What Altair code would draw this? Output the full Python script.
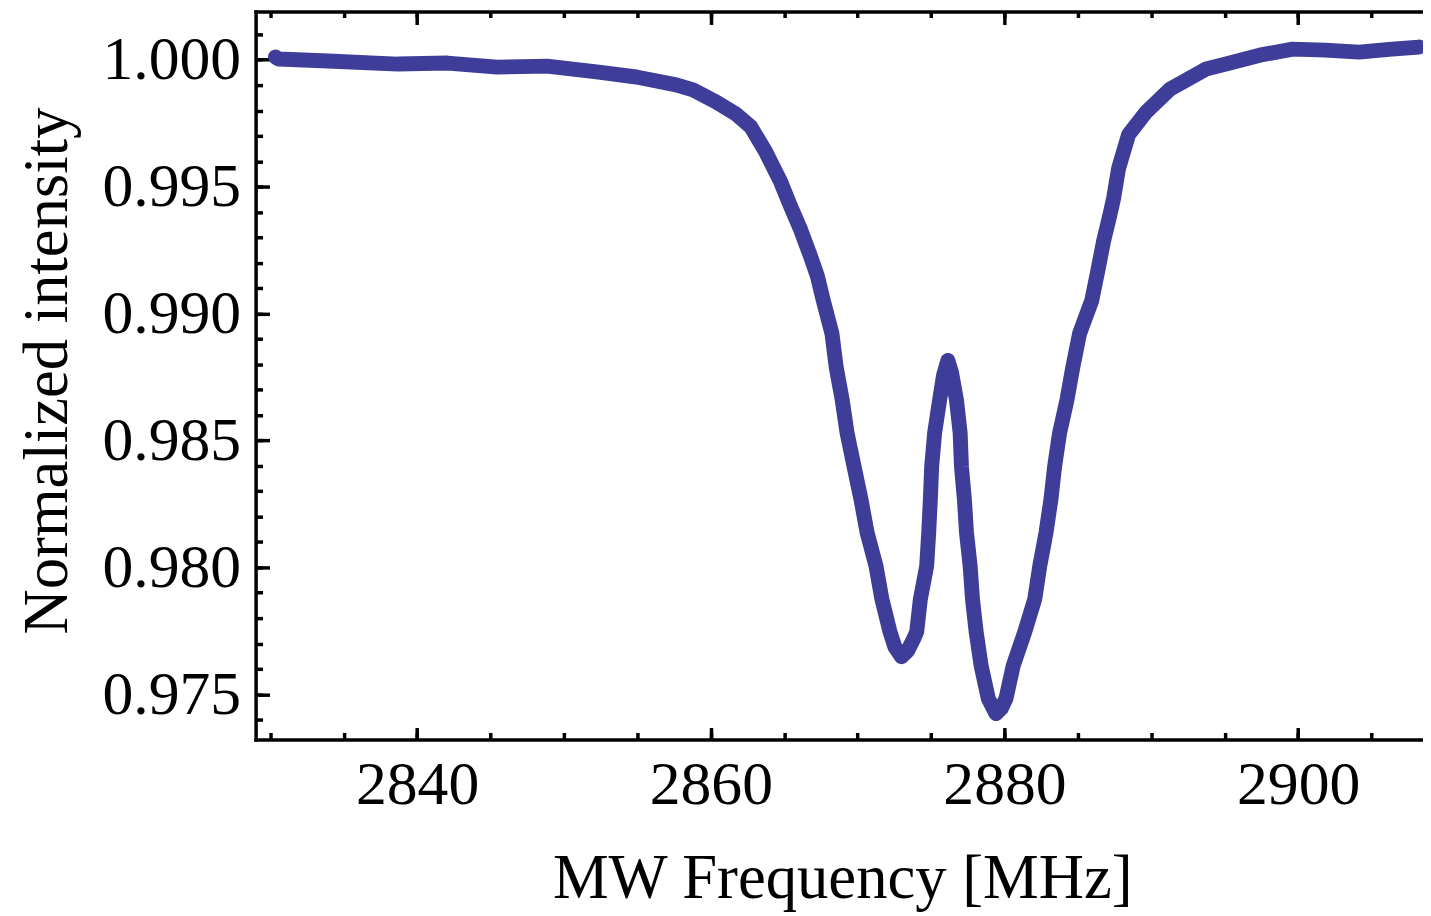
import altair as alt
import pandas as pd

# ---- data ----
freq = [2830.35, 2830.56, 2833.94, 2838.68, 2842.07, 2845.45, 2848.84, 2852.22, 2854.93, 2857.64,
        2858.79, 2860.35, 2861.70, 2862.72, 2863.73, 2864.75, 2865.43, 2866.10, 2866.78, 2867.25,
        2867.66, 2868.25, 2868.54, 2868.95, 2869.28, 2869.76, 2870.23, 2870.64, 2871.25, 2871.65,
        2872.20, 2872.53, 2872.99, 2873.41, 2873.82, 2874.02, 2874.27, 2874.70, 2874.84, 2874.95,
        2875.04, 2875.24, 2875.58, 2875.85, 2876.14, 2876.39, 2876.73, 2876.98, 2877.07, 2877.27,
        2877.41, 2877.66, 2877.82, 2878.07, 2878.41, 2878.90, 2879.42, 2879.78, 2880.10, 2880.59,
        2881.38, 2882.06, 2882.40, 2882.83, 2883.16, 2883.41, 2883.75, 2884.25, 2884.65, 2885.11,
        2885.94, 2886.35, 2886.75, 2887.16, 2887.43, 2887.77, 2888.45, 2889.66, 2891.29, 2893.73,
        2895.08, 2897.38, 2899.62, 2901.85, 2904.15, 2906.39, 2908.22]
intensity = [1.00011, 1.00003, 0.99995, 0.99983, 0.99987, 0.99971, 0.99975, 0.99952, 0.99932, 0.99901,
             0.99881, 0.99834, 0.99787, 0.99736, 0.99638, 0.99520, 0.99423, 0.99333, 0.99227, 0.99149,
             0.99051, 0.98921, 0.98788, 0.98659, 0.98529, 0.98396, 0.98267, 0.98138, 0.98005, 0.97875,
             0.97746, 0.97687, 0.97648, 0.97672, 0.97719, 0.97746, 0.97875, 0.98005, 0.98138, 0.98267,
             0.98396, 0.98529, 0.98659, 0.98757, 0.98815, 0.98768, 0.98659, 0.98529, 0.98396, 0.98267,
             0.98138, 0.98005, 0.97875, 0.97746, 0.97612, 0.97483, 0.97424, 0.97444, 0.97483, 0.97612,
             0.97746, 0.97875, 0.98005, 0.98138, 0.98267, 0.98396, 0.98529, 0.98659, 0.98788, 0.98921,
             0.99051, 0.99168, 0.99286, 0.99384, 0.99454, 0.99572, 0.99705, 0.99795, 0.99885, 0.99964,
             0.99983, 1.00018, 1.00042, 1.00038, 1.00030, 1.00042, 1.00050]

x_labels = [2840, 2860, 2880, 2900]
x_minor = [2830, 2835, 2840, 2845, 2850, 2855, 2860, 2865, 2870, 2875, 2880, 2885, 2890, 2895, 2900, 2905]
y_labels = [0.975, 0.980, 0.985, 0.990, 0.995, 1.000]
y_minor = [0.974, 0.975, 0.976, 0.977, 0.978, 0.979, 0.980, 0.981, 0.982, 0.983, 0.984, 0.985,
           0.986, 0.987, 0.988, 0.989, 0.990, 0.991, 0.992, 0.993, 0.994, 0.995, 0.996, 0.997,
           0.998, 0.999, 1.000, 1.001]

x_title = "MW Frequency [MHz]"
y_title = "Normalized intensity"

W, H = 1174, 732
FONT = "Liberation Serif"
LINE_COLOR = "#3f3d9a"
LW = 3.5

df = pd.DataFrame({"f": freq, "v": intensity})
xs = alt.Scale(domain=[2829.0, 2908.5], nice=False, zero=False)
ys = alt.Scale(domain=[0.97322, 1.0019], nice=False, zero=False)

main = alt.Chart(df).mark_line(
    color=LINE_COLOR, strokeWidth=15, strokeJoin="round", strokeCap="round", clip=True
).encode(
    x=alt.X("f:Q", scale=xs, axis=alt.Axis(
        orient="bottom", values=x_labels, format="d", ticks=False, tickSize=0,
        labelPadding=15, labelFont=FONT, labelFontSize=62, labelColor="black",
        labelOverlap=False, labelFlush=False, grid=False,
        domain=True, domainColor="black", domainWidth=LW, domainCap="square",
        title=x_title, titleFont=FONT, titleFontSize=63, titleFontWeight="normal",
        titleColor="black", titleBaseline="alphabetic", titleX=590, titleY=159)),
    y=alt.Y("v:Q", scale=ys, axis=alt.Axis(
        orient="left", values=y_labels, format=".3f", ticks=False, tickSize=0,
        labelPadding=15, labelFont=FONT, labelFontSize=62, labelColor="black",
        labelOverlap=False, labelFlush=False, grid=False,
        domain=True, domainColor="black", domainWidth=LW, domainCap="square",
        title=y_title, titleFont=FONT, titleFontSize=63, titleFontWeight="normal",
        titleColor="black", titleBaseline="alphabetic", titleAngle=270,
        titleX=-190, titleY=361, titleAlign="center")),
)


def x_ticks(orient, values, size, domain=False):
    return alt.Chart(df).mark_point(opacity=0, size=1).encode(
        x=alt.X("f:Q", scale=xs, axis=alt.Axis(
            orient=orient, offset=-H, values=values, labels=False, ticks=True,
            tickSize=size, tickWidth=LW, tickColor="black", grid=False,
            domain=domain, domainColor="black", domainWidth=LW, domainCap="square",
            title=None)),
        y=alt.Y("v:Q", scale=ys, axis=None),
    )


def y_ticks(values, size):
    return alt.Chart(df).mark_point(opacity=0, size=1).encode(
        x=alt.X("f:Q", scale=xs, axis=None),
        y=alt.Y("v:Q", scale=ys, axis=alt.Axis(
            orient="right", offset=-W, values=values, labels=False, ticks=True,
            tickSize=size, tickWidth=LW, tickColor="black", grid=False,
            domain=False, title=None)),
    )


chart = alt.layer(
    x_ticks("top", x_labels, 12),          # bottom frame, inward major ticks
    x_ticks("top", x_minor, 7),            # bottom frame, inward minor ticks
    x_ticks("bottom", x_labels, 13, True), # top frame line + inward major ticks
    x_ticks("bottom", x_minor, 6),         # top frame inward minor ticks
    y_ticks(y_labels, 14),
    y_ticks(y_minor, 7),
    main,
).resolve_axis(x="independent", y="independent").properties(
    width=W, height=H,
    autosize=alt.AutoSizeParams(type="none"),
    padding={"left": 249, "top": 1, "right": 0, "bottom": 174},
    background="white",
).configure_view(stroke="transparent")

chart.save("out.html", embed_options={"renderer": "svg", "actions": False})
